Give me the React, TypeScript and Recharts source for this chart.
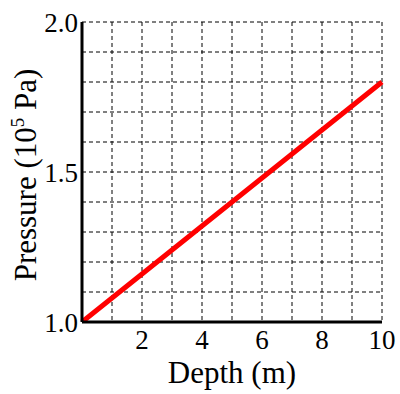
import React from 'react';
import { LineChart, Line, XAxis, YAxis, CartesianGrid } from 'recharts';

const depth = [0, 1, 2, 3, 4, 5, 6, 7, 8, 9, 10];
const pressure = [1.0, 1.08, 1.16, 1.24, 1.32, 1.4, 1.48, 1.56, 1.64, 1.72, 1.8];

const xTicks = [0, 1, 2, 3, 4, 5, 6, 7, 8, 9, 10];
const xTickLabels = [2, 4, 6, 8, 10];
const yTicks = [1.0, 1.1, 1.2, 1.3, 1.4, 1.5, 1.6, 1.7, 1.8, 1.9, 2.0];
const yTickLabels = [1.0, 1.5, 2.0];

const data = depth.map((d, i) => ({ depth: d, pressure: pressure[i] }));

const font = '"Liberation Serif", "DejaVu Serif", serif';

const YLabel = () => (
  <text
    x={36}
    y={175}
    transform="rotate(-90, 36, 175)"
    textAnchor="middle"
    fontFamily={font}
    fontSize={31}
    fill="#000"
  >
    Pressure (10
    <tspan dy={-12} fontSize={19}>5</tspan>
    <tspan dy={12}> Pa)</tspan>
  </text>
);

export default function App() {
  return (
    <div style={{ position: 'absolute', left: 0, top: 0, background: '#fff' }}>
      <LineChart
        width={400}
        height={394}
        data={data}
        margin={{ top: 22, right: 18, left: 0, bottom: 0 }}
      >
        <CartesianGrid stroke="#000" strokeWidth={1} strokeDasharray="4 3" />
        <XAxis
          dataKey="depth"
          type="number"
          domain={[0, 10]}
          ticks={xTicks}
          interval={0}
          tickFormatter={(v: number) => (xTickLabels.includes(v) ? String(v) : '')}
          axisLine={{ stroke: '#000', strokeWidth: 3 }}
          tickLine={false}
          tickSize={0}
          tickMargin={8}
          height={72}
          tick={{ fill: '#000', fontSize: 27, fontFamily: font }}
          label={{
            value: 'Depth (m)',
            position: 'insideBottom',
            offset: 11,
            fill: '#000',
            fontSize: 31,
            fontFamily: font,
          }}
        />
        <YAxis
          type="number"
          domain={[1, 2]}
          ticks={yTicks}
          interval={0}
          allowDataOverflow
          tickFormatter={(v: number) =>
            yTickLabels.some((t) => Math.abs(t - v) < 1e-6) ? v.toFixed(1) : ''
          }
          axisLine={{ stroke: '#000', strokeWidth: 3 }}
          tickLine={false}
          tickSize={0}
          tickMargin={4}
          width={82}
          tick={{ fill: '#000', fontSize: 27, fontFamily: font }}
          label={<YLabel />}
        />
        <Line
          type="linear"
          dataKey="pressure"
          stroke="#ff0000"
          strokeWidth={5}
          dot={false}
          isAnimationActive={false}
        />
      </LineChart>
    </div>
  );
}
